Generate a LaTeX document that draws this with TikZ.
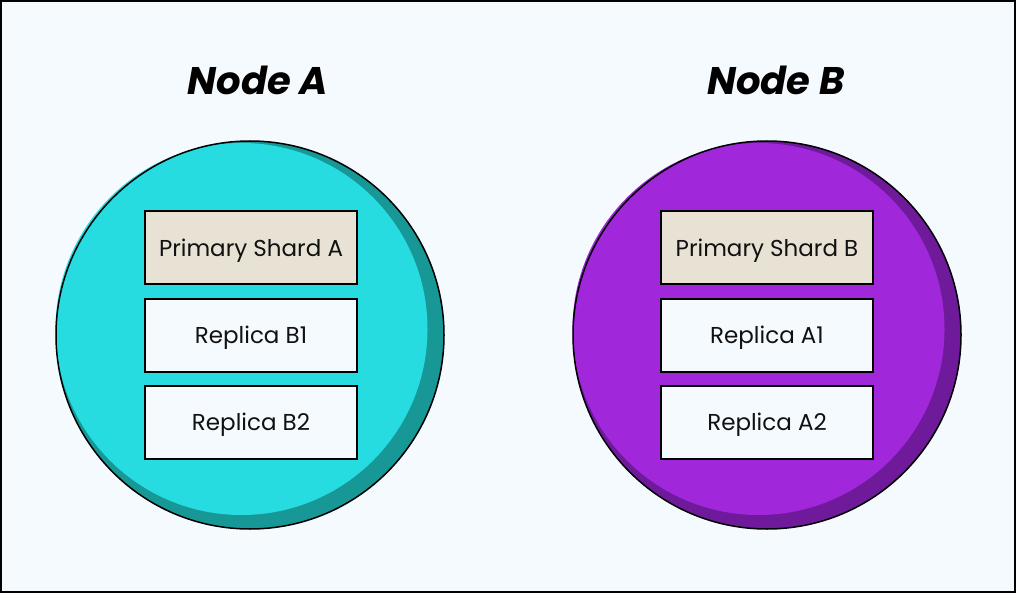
\documentclass[tikz,border=0pt]{standalone}
\usepackage{fontspec}
\setmainfont{Poppins}
\definecolor{bgc}{HTML}{F5FAFF}
\definecolor{cyanc}{HTML}{26DCE0}
\definecolor{tealc}{HTML}{179896}
\definecolor{purc}{HTML}{A028DA}
\definecolor{dpurc}{HTML}{6E1A9A}
\definecolor{beige}{HTML}{E8E2D5}
\definecolor{txtc}{HTML}{111111}
\begin{document}
\begin{tikzpicture}[x=1pt,y=-1pt,
  shardbox/.style={draw=black,line width=2pt,minimum width=212pt,minimum height=73pt,inner sep=0pt,text=txtc,font=\fontsize{23}{27}\selectfont,text height=16.5pt,text depth=0pt},
  primbox/.style={shardbox,fill=beige},
  replbox/.style={shardbox,fill=bgc},
  titletext/.style={font=\fontsize{38.5}{42}\selectfont\bfseries\itshape}]
\useasboundingbox (0,0) rectangle (1016,593);
\draw[fill=bgc,draw=black,line width=2pt] (1,1) rectangle (1015,592);
% Node A circle
\fill[tealc] (250,335) circle[radius=194];
\fill[cyanc] (241.5,329) circle[radius=186];
\draw[black,line width=1.5pt] (250,335) circle[radius=194];
% Node B circle
\fill[dpurc] (767,335) circle[radius=194];
\fill[purc] (758.5,329) circle[radius=186];
\draw[black,line width=1.5pt] (767,335) circle[radius=194];
% titles
\node[titletext] (ta) at (258,80) {Node A};
\node[titletext] (tb) at (776,80) {Node B};
% boxes A
\node[primbox] (pa) at (251,248) {Primary Shard A};
\node[replbox] (rb1) at (251,335) {Replica B1};
\node[replbox] (rb2) at (251,422) {Replica B2};
% boxes B
\node[primbox] (pb) at (767,248) {Primary Shard B};
\node[replbox] (ra1) at (767,335) {Replica A1};
\node[replbox] (ra2) at (767,422) {Replica A2};
\end{tikzpicture}
\end{document}
